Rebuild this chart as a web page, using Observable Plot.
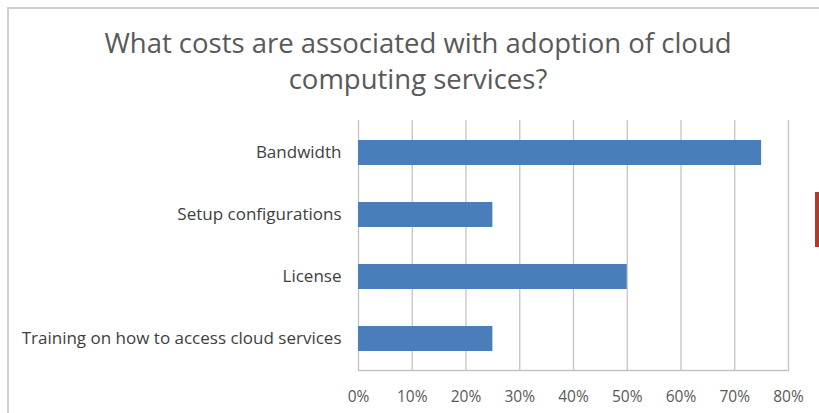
<!DOCTYPE html>
<html>
<head>
<meta charset="utf-8">
<script src="https://cdn.jsdelivr.net/npm/d3@7"></script>
<script src="https://cdn.jsdelivr.net/npm/@observablehq/plot@0.6"></script>
<style>
  html, body { margin: 0; padding: 0; background: #fff; }
  #wrap { position: relative; width: 819px; height: 413px; overflow: hidden; font-family: "Open Sans", Lato, sans-serif; }
  #frame { position: absolute; left: 7px; top: 7px; right: -2px; bottom: -2px; border-left: 2px solid #cfcfcf; border-top: 2px solid #cfcfcf; }
  #sliver { position: absolute; left: 815px; top: 192px; width: 4px; height: 55px; background: #b03a2e; }
  #title { height: 110px; box-sizing: border-box; padding-top: 25px; text-align: center; padding-left: 17px; color: #595959; font-size: 27.5px; line-height: 36px; white-space: nowrap; }
  svg { display: block; }
</style>
</head>
<body>
<div id="wrap">
  <div id="frame"></div>
  <div id="sliver"></div>
  <div id="title">What costs are associated with adoption of cloud<br>computing services?</div>
  <div id="chart"></div>
</div>
<script>
const categories = ["Bandwidth", "Setup configurations", "License", "Training on how to access cloud services"];
const values = [0.75, 0.25, 0.50, 0.25];
const xTicks = [0, 0.1, 0.2, 0.3, 0.4, 0.5, 0.6, 0.7, 0.8];

const data = categories.map((c, i) => ({category: c, value: values[i]}));

const chart = Plot.plot({
  width: 819,
  height: 303,
  marginLeft: 358,
  marginRight: 31,
  marginTop: 10,
  marginBottom: 43,
  style: {fontFamily: "'Open Sans', Lato, sans-serif", background: "transparent"},
  x: {domain: [0, 0.8], ticks: xTicks, tickFormat: d => Math.round(d * 100) + "%", label: null},
  y: {domain: categories, paddingInner: 0.6, paddingOuter: 0.3, label: null},
  marks: [
    Plot.ruleX(xTicks, {stroke: "#c4c4c4", strokeWidth: 1.3}),
    Plot.frame({anchor: "bottom", stroke: "#c4c4c4", strokeWidth: 1.3}),
    Plot.barX(data, {x: "value", y: "category", fill: "#4a7ebb"}),
    Plot.axisX({ticks: xTicks, tickSize: 0, tickPadding: 20, fontSize: 15.5, color: "#595959", label: null, tickFormat: d => Math.round(d * 100) + "%"}),
    Plot.axisY({tickSize: 0, tickPadding: 17, fontSize: 17, color: "#404040", label: null})
  ]
});
document.getElementById("chart").appendChild(chart);
</script>
</body>
</html>
